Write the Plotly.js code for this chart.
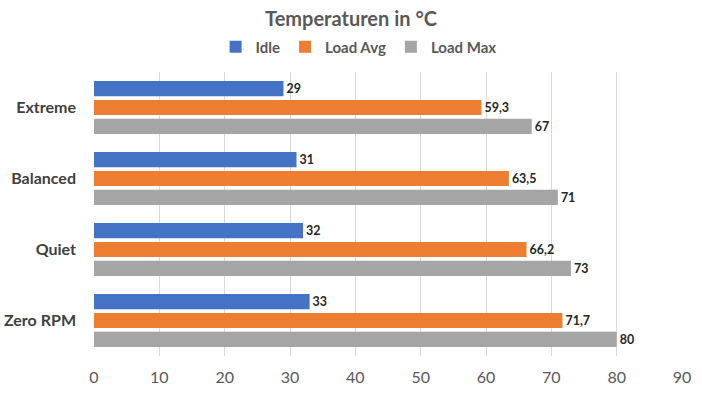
<!DOCTYPE html>
<html><head><meta charset="utf-8">
<script src="https://cdn.plot.ly/plotly-3.0.1.min.js"></script>
<style>html,body{margin:0;padding:0;background:#fff}#chart{width:702px;height:393px}</style>
</head><body><div id="chart"></div>
<script>
const categories = ["Extreme", "Balanced", "Quiet", "Zero RPM"];
const seriesNames = ["Idle", "Load Avg", "Load Max"];
const idle = [29, 31, 32, 33];
const loadAvg = [59.3, 63.5, 66.2, 71.7];
const loadMax = [67, 71, 73, 80];
const xTicks = [0, 10, 20, 30, 40, 50, 60, 70, 80, 90];
const colors = ["#4472C4", "#ED7D31", "#A5A5A5"];
const FONT = "Lato, 'Open Sans', sans-serif";

const fmt = v => String(v).replace('.', ',');
const data = [idle, loadAvg, loadMax].map((vals, i) => ({
  type: 'bar', orientation: 'h', name: seriesNames[i],
  y: categories, x: vals,
  text: vals.map(fmt), textposition: 'outside', cliponaxis: false,
  textfont: {family: FONT, size: 14, color: '#262626', weight: 'bold'},
  marker: {color: colors[i], line: {width: 0}},
  hoverinfo: 'x+name'
}));

const layout = {
  width: 702, height: 393,
  margin: {l: 94, r: 20, t: 72, b: 37},
  paper_bgcolor: '#fff', plot_bgcolor: '#fff',
  barmode: 'group', bargap: 0.2, bargroupgap: 0.2,
  title: {text: 'Temperaturen in °C', x: 0.5, xanchor: 'center', y: 0.952, yanchor: 'middle',
          font: {family: FONT, size: 20, color: '#595959', weight: 'bold'}},
  legend: {orientation: 'h', x: 0.45, xanchor: 'center', yref: 'paper', y: 1.088, yanchor: 'middle',
           font: {family: FONT, size: 15, color: '#595959', weight: 'bold'},
           traceorder: 'normal', itemwidth: 30},
  xaxis: {range: [0, 90], tickvals: xTicks, ticktext: xTicks.map(String),
          showgrid: true, gridcolor: '#D9D9D9', gridwidth: 1, zeroline: false,
          showline: false, ticks: '', ticklabelstandoff: 10,
          tickfont: {family: FONT, size: 16, color: '#595959'},
          fixedrange: true},
  yaxis: {autorange: 'reversed', type: 'category', showgrid: false, zeroline: false,
          ticks: '', ticklabelstandoff: 17, tickfont: {family: FONT, size: 16, color: '#404040', weight: 'bold'},
          fixedrange: true},
  showlegend: true
};
Plotly.newPlot('chart', data, layout, {displayModeBar: false, staticPlot: true});
</script></body></html>
